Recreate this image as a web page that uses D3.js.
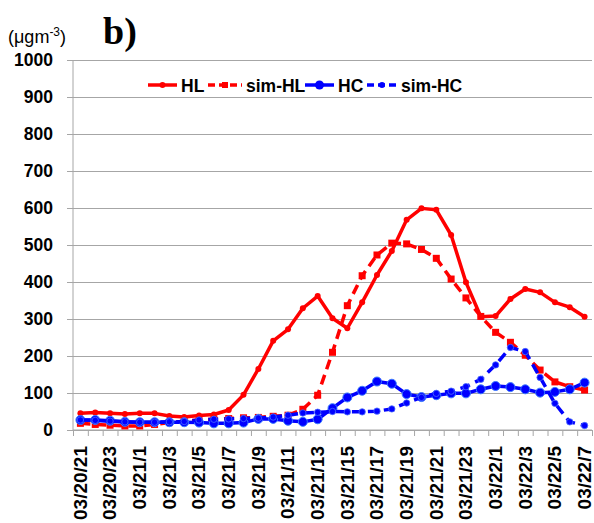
<!DOCTYPE html>
<html lang="en">
<head>
  <meta charset="UTF-8">
  <title>b)</title>
  <script src="https://d3js.org/d3.v7.min.js"></script>
  <style>
    body { margin: 0; background: #fff; }
    svg text { font-family: "Liberation Sans", Arial, sans-serif; }
  </style>
</head>
<body>
  <svg id="chart" width="594" height="523"></svg>
  <script>
    // hourly categories, 03/20 21h .. 03/22 7h
    let times = ["03/20/21", "03/20/22", "03/20/23", "03/21/0", "03/21/1", "03/21/2", "03/21/3",
      "03/21/4", "03/21/5", "03/21/6", "03/21/7", "03/21/8", "03/21/9", "03/21/10", "03/21/11",
      "03/21/12", "03/21/13", "03/21/14", "03/21/15", "03/21/16", "03/21/17", "03/21/18",
      "03/21/19", "03/21/20", "03/21/21", "03/21/22", "03/21/23", "03/22/0", "03/22/1",
      "03/22/2", "03/22/3", "03/22/4", "03/22/5", "03/22/6", "03/22/7"];

    let HL = [45, 47, 45, 43, 45, 45, 38, 35, 39, 42, 54, 95, 165, 241, 272, 329, 362, 302, 275,
      345, 419, 484, 568, 599, 595, 527, 399, 306, 308, 354, 381, 372, 345, 332, 306];
    let simHL = [18, 15, 13, 11, 11, 15, 20, 24, 27, 29, 31, 33, 34, 37, 40, 56, 94, 210, 336,
      417, 473, 505, 503, 488, 464, 408, 357, 307, 264, 237, 202, 162, 130, 117, 108];
    let HC = [27, 27, 25, 22, 21, 21, 21, 21, 20, 18, 18, 20, 30, 30, 25, 22, 29, 59, 88, 106,
      131, 125, 97, 89, 94, 99, 99, 110, 119, 116, 110, 101, 103, 110, 128];
    let simHC = [27, 26, 24, 22, 21, 21, 22, 23, 27, 29, 30, 31, 32, 35, 40, 46, 48, 50, 49, 49,
      51, 57, 73, 88, 99, 105, 117, 137, 176, 223, 212, 142, 72, 22, 12];

    let yTicks = [0, 100, 200, 300, 400, 500, 600, 700, 800, 900, 1000];

    let series = [
      { name: "HL", values: HL, color: "#ff0000", dash: null, marker: "dot" },
      { name: "sim-HL", values: simHL, color: "#ff0000", dash: "10,6", marker: "square" },
      { name: "HC", values: HC, color: "#0000ff", dash: null, marker: "circle" },
      { name: "sim-HC", values: simHC, color: "#0000ff", dash: "10,6", marker: "small" }
    ];

    let plotL = 73, plotR = 592, plotT = 60, plotB = 430;
    let svg = d3.select('#chart');

    let x = d3.scaleLinear().domain([0, times.length]).range([plotL, plotR]);
    let y = d3.scaleLinear().domain([0, 1000]).range([plotB, plotT]);

    // grid lines
    svg.append('g')
      .attr('transform', 'translate(' + plotL + ',0)')
      .call(d3.axisLeft(y).tickValues(yTicks).tickSize(-(plotR - plotL)).tickFormat(''))
      .call(g => g.select('.domain').remove())
      .call(g => g.selectAll('line').attr('stroke', '#a6a6a6').attr('stroke-width', 1.2));

    // y axis
    let yAxis = svg.append('g')
      .attr('transform', 'translate(' + plotL + ',0)')
      .call(d3.axisLeft(y).tickValues(yTicks).tickSize(6).tickPadding(14).tickFormat(d3.format('d')));
    yAxis.select('.domain').attr('stroke', '#a6a6a6').attr('d', 'M0,' + plotT + 'V' + plotB);
    yAxis.selectAll('line').attr('stroke', '#a6a6a6');
    yAxis.selectAll('text')
      .attr('font-size', 17.5).attr('font-weight', 'bold').attr('fill', '#000')
      .style('font-family', '"Liberation Sans", Arial, sans-serif');

    // x axis, ticks at category boundaries
    let xAxis = svg.append('g')
      .attr('transform', 'translate(0,' + plotB + ')')
      .call(d3.axisBottom(x).tickValues(d3.range(times.length + 1)).tickSize(6).tickFormat(''));
    xAxis.select('.domain').attr('stroke', '#a6a6a6').attr('d', 'M' + plotL + ',0H' + plotR);
    xAxis.selectAll('line').attr('stroke', '#a6a6a6');

    svg.append('g')
      .selectAll('text')
      .data(times.filter((d, i) => i % 2 === 0))
      .join('text')
      .attr('transform', (d, i) => 'translate(' + x(i * 2 + 0.5) + ',446) rotate(-90)')
      .attr('text-anchor', 'end')
      .attr('dy', '0.33em')
      .attr('font-size', 19)
      .attr('font-weight', 'bold')
      .text(d => d);

    // lines
    let line = d3.line()
      .x((d, i) => x(i + 0.5))
      .y(d => y(d));

    function drawMarkers(g, s) {
      let pts = g.selectAll('.m').data(s.values).join(s.marker === 'square' ? 'rect' : 'circle').attr('class', 'm');
      if (s.marker === 'square') {
        pts.attr('x', (d, i) => x(i + 0.5) - 3.5).attr('y', d => y(d) - 3.5)
          .attr('width', 7).attr('height', 7).attr('fill', s.color);
      } else if (s.marker === 'circle') {
        pts.attr('cx', (d, i) => x(i + 0.5)).attr('cy', d => y(d)).attr('r', 4.5)
          .attr('fill', s.color).attr('stroke', '#3b7bff').attr('stroke-width', 1);
      } else if (s.marker === 'small') {
        pts.attr('cx', (d, i) => x(i + 0.5)).attr('cy', d => y(d)).attr('r', 3.2)
          .attr('fill', s.color).attr('stroke', '#4a6cff').attr('stroke-width', 0.8);
      } else {
        pts.attr('cx', (d, i) => x(i + 0.5)).attr('cy', d => y(d)).attr('r', 3)
          .attr('fill', s.color);
      }
    }

    series.forEach(s => {
      let g = svg.append('g');
      g.append('path')
        .datum(s.values)
        .attr('d', line)
        .attr('fill', 'none')
        .attr('stroke', s.color)
        .attr('stroke-width', 3.5)
        .attr('stroke-linejoin', 'round')
        .attr('stroke-dasharray', s.dash);
      drawMarkers(g, s);
    });

    // legend
    let legendX = [148, 208, 305, 367];
    let legendW = [29, 34, 29, 30];
    let legend = svg.append('g');
    series.forEach((s, k) => {
      let lg = legend.append('g').attr('transform', 'translate(' + legendX[k] + ',85)');
      lg.append('line')
        .attr('x1', 0).attr('x2', legendW[k]).attr('y1', 0).attr('y2', 0)
        .attr('stroke', s.color).attr('stroke-width', 3.5)
        .attr('stroke-dasharray', s.dash ? '7,4' : null);
      if (s.marker === 'square') {
        lg.append('rect').attr('x', legendW[k] / 2 - 3).attr('y', -3).attr('width', 6).attr('height', 6).attr('fill', s.color);
      } else {
        lg.append('circle').attr('cx', legendW[k] / 2).attr('cy', 0)
          .attr('r', s.marker === 'circle' ? 4.5 : 3).attr('fill', s.color);
      }
      lg.append('text')
        .attr('x', legendW[k] + 4).attr('y', 6.5)
        .attr('font-size', 17.5).attr('font-weight', 'bold')
        .text(s.name);
    });

    // unit and panel label
    let unit = svg.append('text').attr('x', 8).attr('y', 43).attr('font-size', 18);
    unit.append('tspan').text('(μgm');
    unit.append('tspan').attr('font-size', 12).attr('dy', -7).text('-3');
    unit.append('tspan').attr('dy', 7).text(')');

    svg.append('text')
      .attr('x', 103).attr('y', 44)
      .attr('font-size', 38).attr('font-weight', 'bold')
      .style('font-family', '"Liberation Serif", "Times New Roman", serif')
      .text('b)');
  </script>
</body>
</html>
